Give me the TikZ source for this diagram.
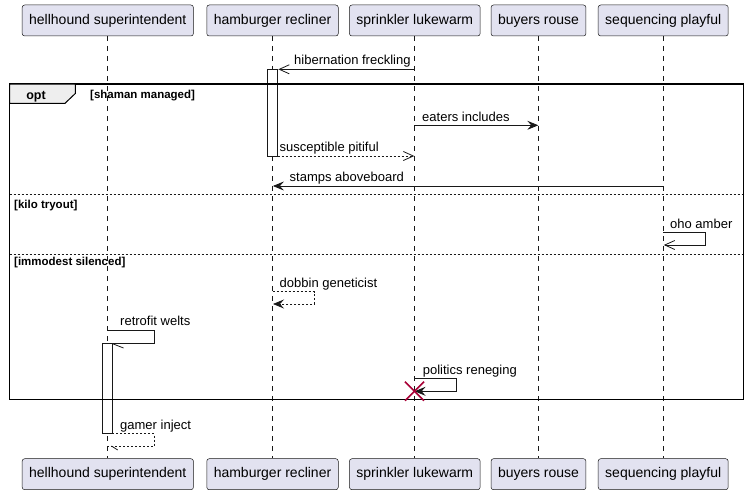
\documentclass[tikz,border=0pt]{standalone}
\usepackage{fontspec}
\setmainfont{Liberation Sans}
\usetikzlibrary{arrows.meta}
\definecolor{partfill}{HTML}{E2E2F0}
\definecolor{ink}{HTML}{181818}
\definecolor{tabfill}{HTML}{EEEEEE}
\definecolor{destroy}{HTML}{A80036}
\begin{document}
\begin{tikzpicture}[x=1pt,y=-1pt,
  part/.style={draw=ink,line width=0.5pt,fill=partfill,rounded corners=2.5pt,
    minimum height=31pt,inner xsep=7pt,font=\fontsize{14}{16}\selectfont,anchor=center},
  life/.style={draw=ink,line width=0.5pt,dash pattern=on 5pt off 5pt},
  actbox/.style={draw=ink,line width=0.8pt,fill=white},
  msg/.style={draw=ink,line width=0.8pt},
  ret/.style={msg,dash pattern=on 2pt off 2pt},
  openhead/.style={-{Straight Barb[length=10pt,width=9pt,line width=0.8pt]}},
  fillhead/.style={-{Stealth[length=11pt,width=9pt,inset=4pt]}},
  lbl/.style={font=\fontsize{13}{15}\selectfont,anchor=base west,inner sep=0pt},
  frm/.style={font=\bfseries\fontsize{11.5}{13}\selectfont,anchor=base west,inner sep=0pt},
  divider/.style={draw=ink,line width=0.8pt,dash pattern=on 2pt off 2pt},
  xmark/.style={draw=destroy,line width=1.6pt}
]
\useasboundingbox (0,0) rectangle (749,495);
% participants
\node[part] (t1) at (107.8,20.5) {hellhound superintendent};
\node[part] (t2) at (272.5,20.5) {hamburger recliner};
\node[part] (t3) at (414.8,20.5) {sprinkler lukewarm};
\node[part] (t4) at (538.5,20.5) {buyers rouse};
\node[part] (t5) at (663.2,20.5) {sequencing playful};
\node[part] (b1) at (107.8,474.2) {hellhound superintendent};
\node[part] (b2) at (272.5,474.2) {hamburger recliner};
\node[part] (b3) at (414.8,474.2) {sprinkler lukewarm};
\node[part] (b4) at (538.5,474.2) {buyers rouse};
\node[part] (b5) at (663.2,474.2) {sequencing playful};
% lifelines
\draw[life] (107.3,36) -- (107.3,458.3);
\draw[life] (272.7,36) -- (272.7,458.3);
\draw[life] (414.3,36) -- (414.3,458.3);
\draw[life] (538.3,36) -- (538.3,458.3);
\draw[life] (663.3,36) -- (663.3,458.3);
% activation boxes
\draw[actbox] (267.5,69.3) rectangle (277.5,156);
\draw[actbox] (102.3,343.3) rectangle (112.3,433.7);
% coordinates
\coordinate (m1s) at (414.3,69.3); \coordinate (m1e) at (278.3,69.3);
\coordinate (m2s) at (414.3,125.3); \coordinate (m2e) at (538.3,125.3);
\coordinate (m3s) at (277.5,156); \coordinate (m3e) at (414.3,156);
\coordinate (m4s) at (663.3,186); \coordinate (m4e) at (272.9,186);
% messages
\draw[msg,openhead] (m1s) -- (m1e);
\node[lbl] (l1) at (294,65) {hibernation freckling};
% opt frame
\draw[line width=1.5pt,draw=black] (9.7,84) rectangle (743.3,399.3);
\draw[line width=1pt,draw=black,fill=tabfill] (9.7,84) -- (75.3,84) -- (75.3,93.5) -- (65,103.3) -- (9.7,103.3) -- cycle;
\node[font=\bfseries\fontsize{12.5}{14}\selectfont,anchor=base,inner sep=0pt] (opt) at (36,99) {opt};
\node[frm] (g1) at (90,98) {[shaman managed]};
\draw[msg,fillhead] (m2s) -- (m2e);
\node[lbl] (l2) at (422,121) {eaters includes};
\draw[ret,openhead] (m3s) -- (m3e);
\node[lbl] (l3) at (279.5,151.5) {susceptible pitiful};
\draw[msg,fillhead] (m4s) -- (m4e);
\node[lbl] (l4) at (289.5,181.5) {stamps aboveboard};
% divider 1
\draw[divider] (9.7,194.8) -- (743.3,194.8);
\node[frm] (g2) at (14,208) {[kilo tryout]};
% oho amber
\coordinate (m5s) at (663.3,232.3); \coordinate (m5e) at (663.8,245);
\draw[msg,openhead] (m5s) -- (705,232.3) -- (705,245) -- (m5e);
\node[lbl] (l5) at (670,228) {oho amber};
% divider 2
\draw[divider] (9.7,254.3) -- (743.3,254.3);
\node[frm] (g3) at (14,265) {[immodest silenced]};
% dobbin geneticist
\coordinate (m6s) at (272.7,291.7); \coordinate (m6e) at (273,304);
\draw[ret,fillhead] (m6s) -- (314.3,291.7) -- (314.3,304) -- (m6e);
\node[lbl] (l6) at (279.5,287.5) {dobbin geneticist};
% retrofit welts
\coordinate (m7s) at (107.3,330.3); \coordinate (m7e) at (112.3,343.3);
\draw[msg] (m7s) -- (154.3,330.3) -- (154.3,343.3) -- (m7e);
\draw[msg] (112.3,343.6) -- (123.5,348);
\node[lbl] (l7) at (120,325.5) {retrofit welts};
% politics reneging
\coordinate (m8s) at (414.3,378.3); \coordinate (m8e) at (414.6,391.3);
\draw[msg,fillhead] (m8s) -- (456.7,378.3) -- (456.7,391.3) -- (m8e);
\node[lbl] (l8) at (422.7,374) {politics reneging};
\draw[xmark] (405,381.7) -- (424,400.7);
\draw[xmark] (424,381.7) -- (405,400.7);
% gamer inject
\coordinate (m9s) at (112.3,433.7); \coordinate (m9e) at (107.3,446.3);
\draw[ret] (m9s) -- (154.3,433.7) -- (154.3,446.3) -- (m9e);
\draw[msg] (111.5,446) -- (117.7,450);
\node[lbl] (l9) at (120,429) {gamer inject};
\end{tikzpicture}
\end{document}
